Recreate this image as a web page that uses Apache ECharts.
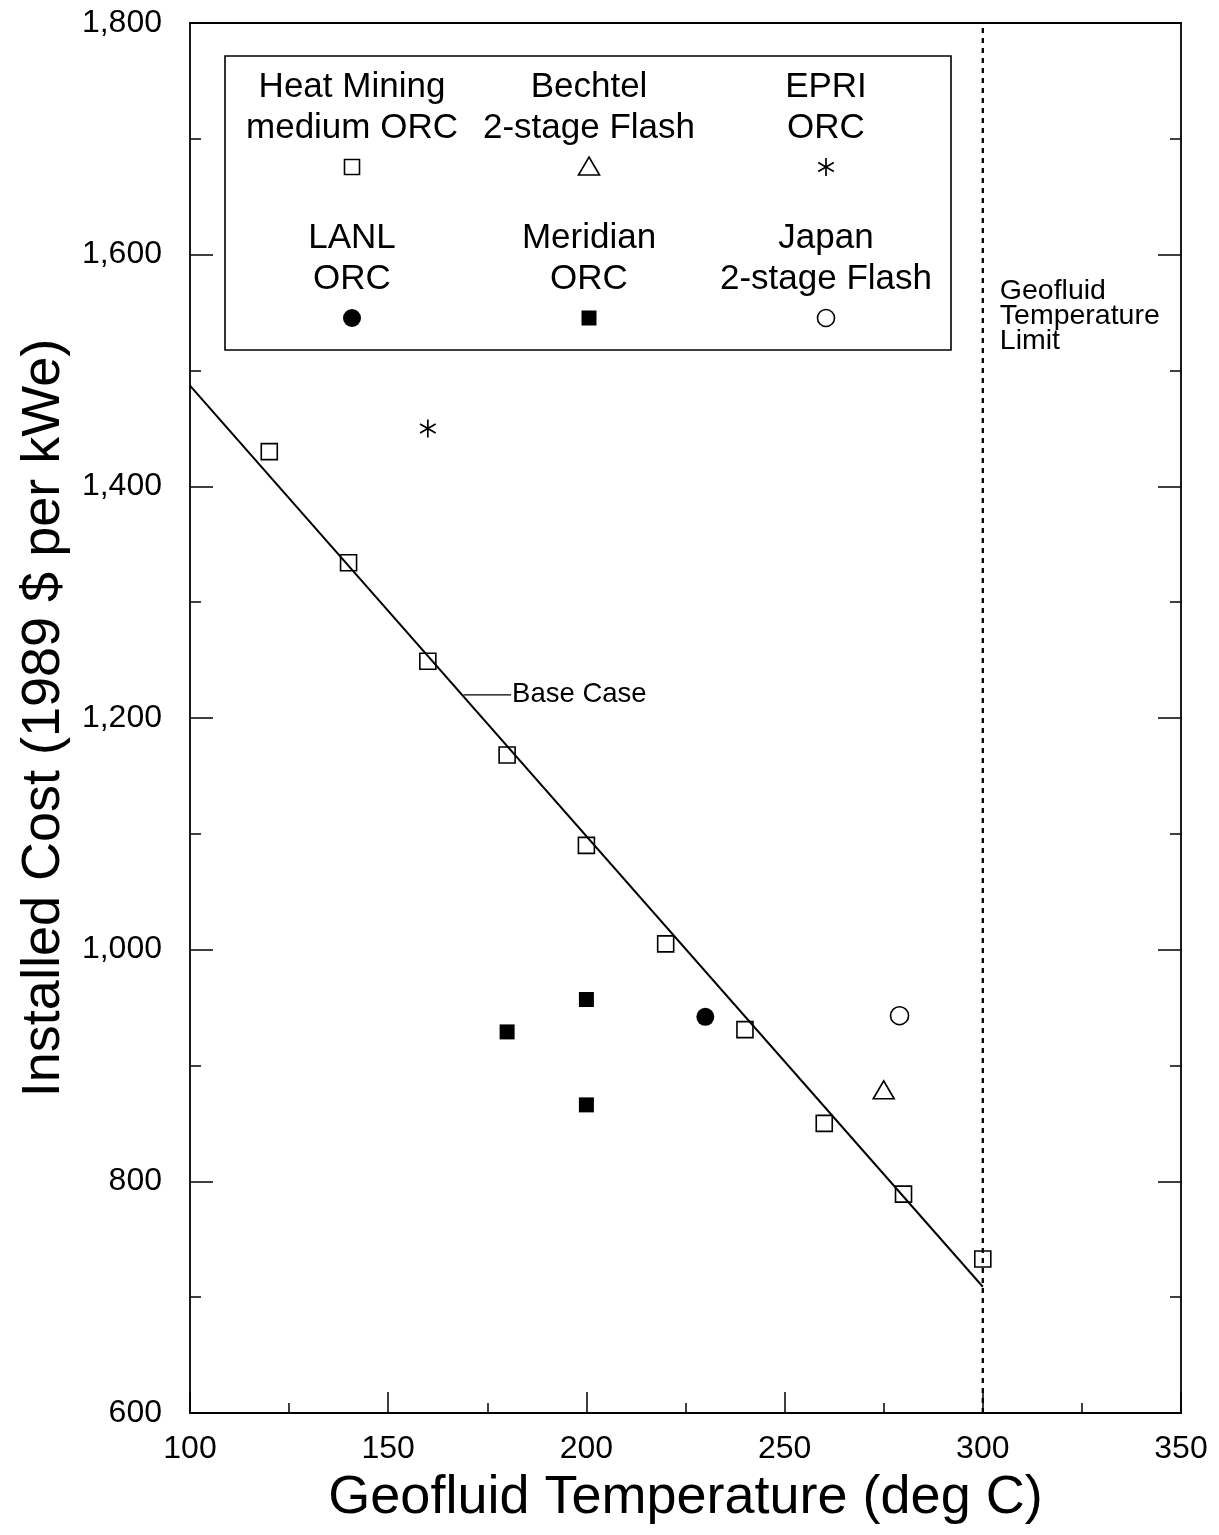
<!DOCTYPE html>
<html>
<head>
<meta charset="utf-8">
<title>Installed Cost vs Geofluid Temperature</title>
<script src="https://cdn.jsdelivr.net/npm/echarts@6/dist/echarts.min.js"></script>
<style>
  html, body { margin: 0; padding: 0; background: #ffffff; }
  #chart { width: 1219px; height: 1535px; }
</style>
</head>
<body>
<div id="chart"></div>
<script>
// ---- Data (deg C, 1989 $ per kWe) ----
const heatMiningTemp = [120, 140, 160, 180, 200, 220, 240, 260, 280, 300];
const heatMiningCost = [1430, 1334, 1249, 1168, 1090, 1005, 931, 850, 789, 733];

const baseCaseTemp = [100, 300];
const baseCaseCost = [1487, 709];

const bechtelTemp = [275];
const bechtelCost = [879];

const epriTemp = [160];
const epriCost = [1450];

const lanlTemp = [230];
const lanlCost = [942];

const meridianTemp = [180, 200, 200];
const meridianCost = [929, 957, 866];

const japanTemp = [279];
const japanCost = [943];

const tempLimit = 300;
const tempLimitLabel = ['Geofluid', 'Temperature', 'Limit'];

// leader line for the "Base Case" note
const baseCaseNoteTemp = [169, 181];
const baseCaseNoteCost = [1220, 1220];
const baseCaseNote = 'Base Case';

// axes
const xMin = 100, xMax = 350, xStep = 50;
const yMin = 600, yMax = 1800, yStep = 200;
const xTitle = 'Geofluid Temperature (deg C)';
const yTitle = 'Installed Cost (1989 $ per kWe)';

// legend entries, laid out three per row
const legendEntries = [
  { text: 'Heat Mining\nmedium ORC', mark: 'openSquare' },
  { text: 'Bechtel\n2-stage Flash', mark: 'openTriangle' },
  { text: 'EPRI\nORC', mark: 'asterisk' },
  { text: 'LANL\nORC', mark: 'filledCircle' },
  { text: 'Meridian\nORC', mark: 'filledSquare' },
  { text: 'Japan\n2-stage Flash', mark: 'openCircle' }
];

const FONT = "'Liberation Sans', Arial, Helvetica, sans-serif";
const INK = '#000000';
const NONE = 'rgba(0,0,0,0)';
const ASTERISK = 'path://M0,-1L0,1M-0.866,-0.5L0.866,0.5M-0.866,0.5L0.866,-0.5';

const zip = (xs, ys) => xs.map((x, i) => [x, ys[i]]);

const chart = echarts.init(document.getElementById('chart'), null, { renderer: 'canvas' });

const axisLineStyle = { color: INK, width: 1.8 };
const tickStyle = { color: INK, width: 1.5 };

const option = {
  backgroundColor: '#ffffff',
  animation: false,
  grid: { left: 190, top: 23, right: 38, bottom: 122, containLabel: false },
  xAxis: [
    {
      type: 'value', min: xMin, max: xMax, interval: xStep,
      position: 'bottom',
      axisLine: { show: true, onZero: false, lineStyle: axisLineStyle },
      axisTick: { show: true, inside: true, length: 21, lineStyle: tickStyle },
      minorTick: { show: true, splitNumber: 2, length: 10, lineStyle: tickStyle },
      splitLine: { show: false },
      axisLabel: { fontSize: 32, fontFamily: FONT, color: INK, margin: 20 },
      name: xTitle, nameLocation: 'middle', nameGap: 58,
      nameTextStyle: { fontSize: 54, fontFamily: FONT, color: INK }
    },
    {
      type: 'value', min: xMin, max: xMax, interval: xStep,
      position: 'top',
      axisLine: { show: true, onZero: false, lineStyle: axisLineStyle },
      axisTick: { show: false }, axisLabel: { show: false },
      splitLine: { show: false }
    }
  ],
  yAxis: [
    {
      type: 'value', min: yMin, max: yMax, interval: yStep,
      position: 'left',
      axisLine: { show: true, onZero: false, lineStyle: axisLineStyle },
      axisTick: { show: true, inside: true, length: 23, lineStyle: tickStyle },
      minorTick: { show: true, splitNumber: 2, length: 11, lineStyle: tickStyle },
      splitLine: { show: false },
      axisLabel: {
        fontSize: 32, fontFamily: FONT, color: INK, margin: 28,
        formatter: v => v.toLocaleString('en-US')
      },
      name: yTitle, nameLocation: 'middle', nameGap: 118,
      nameTextStyle: { fontSize: 54, fontFamily: FONT, color: INK }
    },
    {
      type: 'value', min: yMin, max: yMax, interval: yStep,
      position: 'right',
      axisLine: { show: true, onZero: false, lineStyle: axisLineStyle },
      axisTick: { show: true, inside: true, length: 23, lineStyle: tickStyle },
      minorTick: { show: true, splitNumber: 2, length: 11, lineStyle: tickStyle },
      axisLabel: { show: false },
      splitLine: { show: false }
    }
  ],
  series: [
    {
      name: 'Geofluid temperature limit', type: 'line',
      data: [[tempLimit, yMin], [tempLimit, yMax]],
      showSymbol: false, symbol: 'none', silent: true,
      lineStyle: { color: INK, width: 2.3, type: [5, 5] }, z: 1
    },
    {
      name: 'Base case', type: 'line',
      data: zip(baseCaseTemp, baseCaseCost),
      showSymbol: false, symbol: 'none', silent: true,
      lineStyle: { color: INK, width: 2 }, z: 2
    },
    {
      name: 'Base case note', type: 'line',
      data: zip(baseCaseNoteTemp, baseCaseNoteCost),
      showSymbol: false, symbol: 'none', silent: true,
      lineStyle: { color: INK, width: 1.3 }, z: 2,
      endLabel: {
        show: true, formatter: baseCaseNote, distance: 1,
        fontSize: 27.5, fontFamily: FONT, color: INK
      }
    },
    {
      name: 'Heat Mining medium ORC', type: 'scatter',
      data: zip(heatMiningTemp, heatMiningCost),
      symbol: 'rect', symbolSize: 16,
      itemStyle: { color: NONE, borderColor: INK, borderWidth: 1.6, opacity: 1 }, z: 3
    },
    {
      name: 'Bechtel 2-stage Flash', type: 'scatter',
      data: zip(bechtelTemp, bechtelCost),
      symbol: 'triangle', symbolSize: [21, 18],
      itemStyle: { color: NONE, borderColor: INK, borderWidth: 1.6, opacity: 1 }, z: 3
    },
    {
      name: 'EPRI ORC', type: 'scatter',
      data: zip(epriTemp, epriCost),
      symbol: ASTERISK, symbolSize: 18, symbolKeepAspect: true,
      itemStyle: { color: NONE, borderColor: INK, borderWidth: 1.7, opacity: 1 }, z: 3
    },
    {
      name: 'LANL ORC', type: 'scatter',
      data: zip(lanlTemp, lanlCost),
      symbol: 'circle', symbolSize: 18,
      itemStyle: { color: INK, opacity: 1 }, z: 3
    },
    {
      name: 'Meridian ORC', type: 'scatter',
      data: zip(meridianTemp, meridianCost),
      symbol: 'rect', symbolSize: 15,
      itemStyle: { color: INK, opacity: 1 }, z: 3
    },
    {
      name: 'Japan 2-stage Flash', type: 'scatter',
      data: zip(japanTemp, japanCost),
      symbol: 'circle', symbolSize: 18,
      itemStyle: { color: NONE, borderColor: INK, borderWidth: 1.6, opacity: 1 }, z: 3
    }
  ]
};

chart.setOption(option);

// ---- Legend panel and the temperature-limit note ----
function markShape(kind, cx, cy) {
  const stroke = { stroke: INK, lineWidth: 1.6, fill: '#ffffff' };
  switch (kind) {
    case 'openSquare':
      return [{ type: 'rect', shape: { x: cx - 7.5, y: cy - 7.5, width: 15, height: 15 }, style: stroke }];
    case 'filledSquare':
      return [{ type: 'rect', shape: { x: cx - 7.5, y: cy - 7.5, width: 15, height: 15 }, style: { fill: INK } }];
    case 'openCircle':
      return [{ type: 'circle', shape: { cx: cx, cy: cy, r: 8.5 }, style: stroke }];
    case 'filledCircle':
      return [{ type: 'circle', shape: { cx: cx, cy: cy, r: 9 }, style: { fill: INK } }];
    case 'openTriangle':
      return [{ type: 'polygon', shape: { points: [[cx, cy - 10], [cx + 10.5, cy + 8], [cx - 10.5, cy + 8]] }, style: stroke }];
    case 'asterisk': {
      const r = 9, out = [];
      for (let k = 0; k < 3; k++) {
        const a = Math.PI / 2 + k * Math.PI / 3;
        out.push({
          type: 'line',
          shape: { x1: cx - r * Math.cos(a), y1: cy - r * Math.sin(a), x2: cx + r * Math.cos(a), y2: cy + r * Math.sin(a) },
          style: { stroke: INK, lineWidth: 1.7 }
        });
      }
      return out;
    }
  }
  return [];
}

const legendBox = { x: 225, y: 56, width: 726, height: 294 };
const legendCols = [352, 589, 826];
const legendTextY = [107.5, 259];
const legendMarkY = [167, 318];

const graphics = [{
  type: 'rect', z: 10,
  shape: legendBox,
  style: { fill: '#ffffff', stroke: INK, lineWidth: 1.6 }
}];

legendEntries.forEach((entry, i) => {
  const col = i % 3, row = Math.floor(i / 3);
  graphics.push({
    type: 'text', z: 11,
    x: legendCols[col], y: legendTextY[row],
    style: {
      text: entry.text, fontSize: 35, fontFamily: FONT, fill: INK,
      align: 'center', verticalAlign: 'middle', lineHeight: 41
    }
  });
  markShape(entry.mark, legendCols[col], legendMarkY[row]).forEach(s => {
    s.z = 11;
    graphics.push(s);
  });
});

// note next to the dashed limit line
const notePos = chart.convertToPixel({ xAxisIndex: 0, yAxisIndex: 0 }, [tempLimit, yMax]);
graphics.push({
  type: 'text', z: 11,
  x: notePos[0] + 17, y: 316,
  style: {
    text: tempLimitLabel.join('\n'), fontSize: 28.5, fontFamily: FONT, fill: INK,
    align: 'left', verticalAlign: 'middle', lineHeight: 25
  }
});

chart.setOption({ graphic: graphics });
</script>
</body>
</html>
